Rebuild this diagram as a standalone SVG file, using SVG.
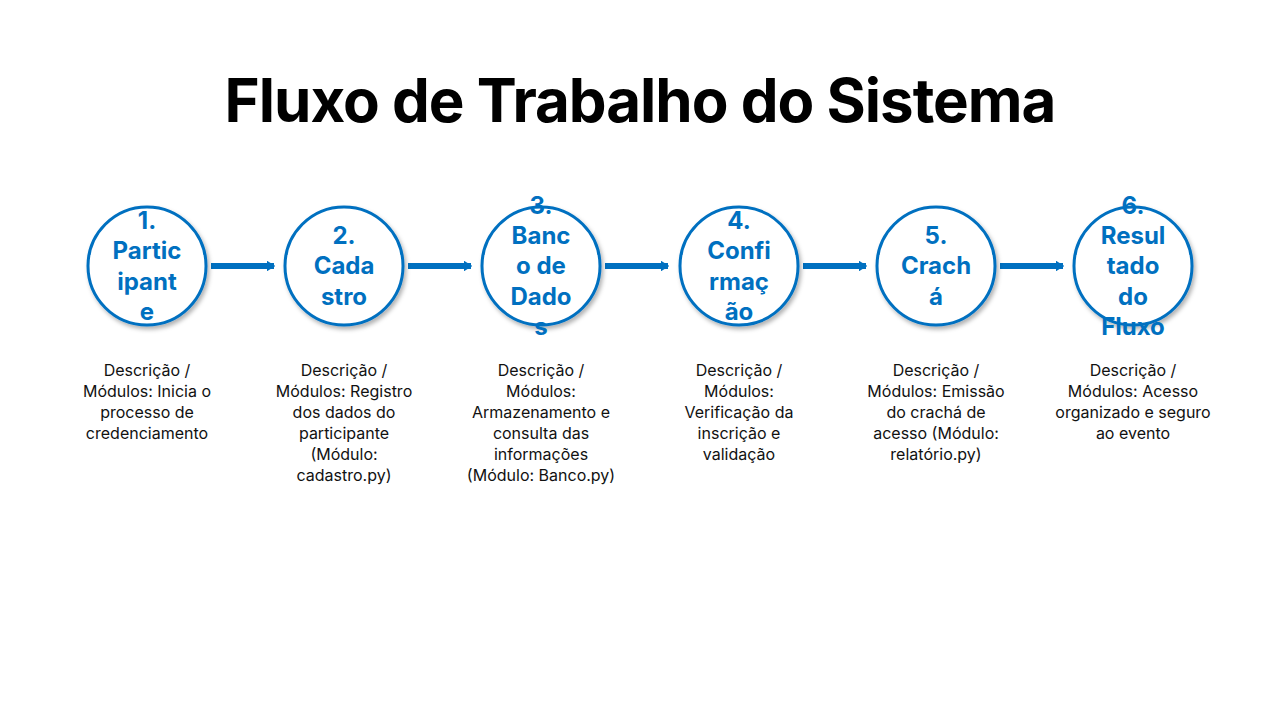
<svg xmlns="http://www.w3.org/2000/svg" width="1280" height="720" viewBox="0 0 1280 720">
<defs>
<filter id="sh" x="-20%" y="-20%" width="150%" height="150%"><feDropShadow dx="2" dy="3" stdDeviation="2" flood-color="#000" flood-opacity="0.3"/></filter>
<marker id="ah" markerWidth="1.4" markerHeight="1.8" refX="1.2" refY="0.9" orient="auto" markerUnits="strokeWidth"><path d="M0,0 L1.4,0.9 L0,1.8 z" fill="#0070C0"/></marker>
</defs>
<style>
.c{fill:#fff;stroke:#0070C0;stroke-width:3;filter:url(#sh)}
.t{font-family:"Inter","Liberation Sans",sans-serif;font-weight:700;font-size:24px;fill:#0070C0;text-anchor:middle}
.d{font-family:"Inter","Liberation Sans",sans-serif;font-size:16px;fill:#111;text-anchor:middle}
.a{stroke:#0070C0;stroke-width:6;fill:none}
</style>
<rect width="1280" height="720" fill="#fff"/>
<text x="640" y="122" font-family="Inter,'Liberation Sans',sans-serif" font-weight="700" font-size="60" text-anchor="middle" fill="#000" letter-spacing="-1">Fluxo de Trabalho do Sistema</text>
<g id="connectors">
<line class="a" x1="211" y1="266" x2="274" y2="266" marker-end="url(#ah)"/>
<line class="a" x1="408" y1="266" x2="471" y2="266" marker-end="url(#ah)"/>
<line class="a" x1="605" y1="266" x2="668" y2="266" marker-end="url(#ah)"/>
<line class="a" x1="803" y1="266" x2="866" y2="266" marker-end="url(#ah)"/>
<line class="a" x1="1000" y1="266" x2="1063" y2="266" marker-end="url(#ah)"/>
</g>
<g id="n1"><circle class="c" cx="147" cy="266" r="59"/>
<text class="t" x="147" y="229">1.</text><text class="t" x="147" y="259">Partic</text><text class="t" x="147" y="290">ipant</text><text class="t" x="147" y="320">e</text>
<text class="d" x="147" y="376">Descrição /</text><text class="d" x="147" y="397">Módulos: Inicia o</text><text class="d" x="147" y="418">processo de</text><text class="d" x="147" y="439">credenciamento</text></g>
<g id="n2"><circle class="c" cx="344" cy="266" r="59"/>
<text class="t" x="344" y="244">2.</text><text class="t" x="344" y="274">Cada</text><text class="t" x="344" y="305">stro</text>
<text class="d" x="344" y="376">Descrição /</text><text class="d" x="344" y="397">Módulos: Registro</text><text class="d" x="344" y="418">dos dados do</text><text class="d" x="344" y="439">participante</text><text class="d" x="344" y="460">(Módulo:</text><text class="d" x="344" y="481">cadastro.py)</text></g>
<g id="n3"><circle class="c" cx="541" cy="266" r="59"/>
<text class="t" x="541" y="214">3.</text><text class="t" x="541" y="244">Banc</text><text class="t" x="541" y="274">o de</text><text class="t" x="541" y="305">Dado</text><text class="t" x="541" y="335">s</text>
<text class="d" x="541" y="376">Descrição /</text><text class="d" x="541" y="397">Módulos:</text><text class="d" x="541" y="418">Armazenamento e</text><text class="d" x="541" y="439">consulta das</text><text class="d" x="541" y="460">informações</text><text class="d" x="541" y="481">(Módulo: Banco.py)</text></g>
<g id="n4"><circle class="c" cx="739" cy="266" r="59"/>
<text class="t" x="739" y="229">4.</text><text class="t" x="739" y="259">Confi</text><text class="t" x="739" y="290">rmaç</text><text class="t" x="739" y="320">ão</text>
<text class="d" x="739" y="376">Descrição /</text><text class="d" x="739" y="397">Módulos:</text><text class="d" x="739" y="418">Verificação da</text><text class="d" x="739" y="439">inscrição e</text><text class="d" x="739" y="460">validação</text></g>
<g id="n5"><circle class="c" cx="936" cy="266" r="59"/>
<text class="t" x="936" y="244">5.</text><text class="t" x="936" y="274">Crach</text><text class="t" x="936" y="305">á</text>
<text class="d" x="936" y="376">Descrição /</text><text class="d" x="936" y="397">Módulos: Emissão</text><text class="d" x="936" y="418">do crachá de</text><text class="d" x="936" y="439">acesso (Módulo:</text><text class="d" x="936" y="460">relatório.py)</text></g>
<g id="n6"><circle class="c" cx="1133" cy="266" r="59"/>
<text class="t" x="1133" y="214">6.</text><text class="t" x="1133" y="244">Resul</text><text class="t" x="1133" y="274">tado</text><text class="t" x="1133" y="305">do</text><text class="t" x="1133" y="335">Fluxo</text>
<text class="d" x="1133" y="376">Descrição /</text><text class="d" x="1133" y="397">Módulos: Acesso</text><text class="d" x="1133" y="418">organizado e seguro</text><text class="d" x="1133" y="439">ao evento</text></g>
</svg>
